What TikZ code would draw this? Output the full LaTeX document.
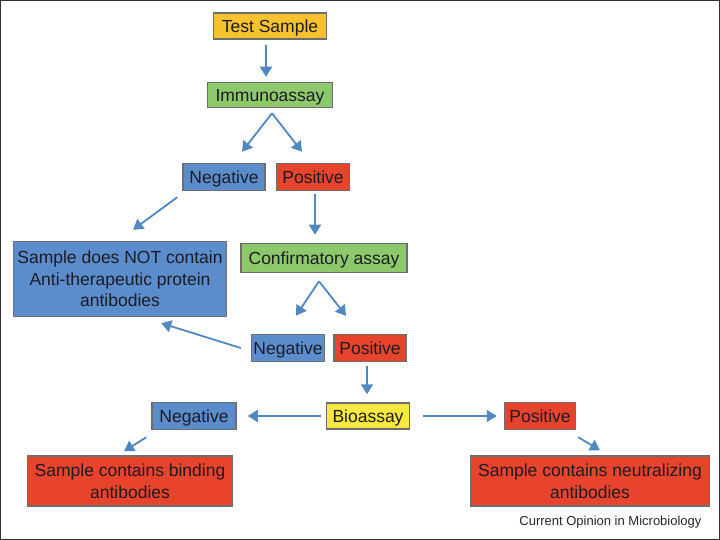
\documentclass[tikz,border=0pt]{standalone}
\usepackage{fontspec}
\setmainfont{Liberation Sans}
\usetikzlibrary{calc,arrows.meta}
\definecolor{cOrange}{HTML}{F8C12E}
\definecolor{cGreen}{HTML}{8DC86B}
\definecolor{cBlue}{HTML}{5B8CCB}
\definecolor{cRed}{HTML}{E8432C}
\definecolor{cYellow}{HTML}{F6E83C}
\definecolor{cArrow}{HTML}{5088C2}
\definecolor{cEdge}{HTML}{6E6E6E}
\definecolor{cText}{HTML}{1C1C24}
\begin{document}
\begin{tikzpicture}[x=1pt,y=-1pt,
  base/.style={draw=cEdge,line width=1.5pt,inner sep=0pt,text=cText,
    font=\fontsize{17.5}{21.5}\selectfont},
  box/.style={base,align=center},
  sbox/.style={base,text height=14pt,text depth=1.5pt},
  arr/.style={draw=cArrow,line width=1.8pt,-{Triangle[length=10pt,width=12pt]}},
]
\useasboundingbox (0,0) rectangle (720,540);
\draw[line width=2.5pt,draw=black!80] (0,0) rectangle (720,540);

\node[sbox,fill=cOrange,minimum width=113,minimum height=26] (ts) at (270,26) {Test Sample};
\node[sbox,fill=cGreen,minimum width=125,minimum height=25] (imm) at (270,95) {Immunoassay};
\node[sbox,fill=cBlue,minimum width=82,minimum height=27] (neg1) at (224,177) {Negative};
\node[sbox,fill=cRed,minimum width=73,minimum height=27] (pos1) at (313,177) {Positive};
\node[box,fill=cBlue,minimum width=213,minimum height=75] (notc) at (120,279) {Sample does NOT contain\\Anti-therapeutic protein\\antibodies};
\node[sbox,fill=cGreen,minimum width=166,minimum height=29] (conf) at (324,258) {Confirmatory assay};
\node[sbox,fill=cBlue,minimum width=73,minimum height=27] (neg2) at (288,348) {Negative};
\node[sbox,fill=cRed,minimum width=72,minimum height=27] (pos2) at (370,348) {Positive};
\node[sbox,fill=cYellow,minimum width=83,minimum height=26] (bio) at (368,416) {Bioassay};
\node[sbox,fill=cBlue,minimum width=84,minimum height=27] (neg3) at (194,416) {Negative};
\node[sbox,fill=cRed,minimum width=71,minimum height=27] (pos3) at (540,416) {Positive};
\node[box,fill=cRed,minimum width=205,minimum height=50] (bind) at (130,481) {Sample contains binding\\antibodies};
\node[box,fill=cRed,minimum width=239,minimum height=50] (neut) at (590,481) {Sample contains neutralizing\\antibodies};
\node[anchor=east,font=\fontsize{13}{15}\selectfont,text=black!85] (cap) at (705,522) {Current Opinion in Microbiology};

% arrows
\draw[arr] ($(ts.south)+(-4,5)$) -- ($(imm.north)+(-4,-5)$);
\coordinate (ia) at ($(imm.south)+(2,5)$);
\draw[arr] (ia) -- ($(neg1.north)+(18,-11)$);
\draw[arr] (ia) -- ($(pos1.north)+(-11,-11)$);
\draw[arr] ($(neg1.south west)+(-5,6)$) -- ($(notc.north)+(13,-11)$);
\draw[arr] ($(pos1.south)+(2,3)$) -- ($(conf.north)+(-9,-8)$);
\coordinate (ca) at ($(conf.south)+(-5,8)$);
\draw[arr] (ca) -- ($(neg2.north)+(8,-18)$);
\draw[arr] (ca) -- ($(pos2.north)+(-24,-18)$);
\draw[arr] ($(neg2.west)+(-10,0)$) -- ($(notc.south east)+(-66,6)$);
\draw[arr] ($(pos2.south)+(-3,4)$) -- ($(bio.north)+(-1,-8)$);
\draw[arr] ($(bio.west)+(-5,0)$) -- ($(neg3.east)+(11,0)$);
\draw[arr] ($(bio.east)+(13,0)$) -- ($(pos3.west)+(-7,0)$);
\draw[arr] ($(neg3.south west)+(-5,7)$) -- ($(bind.north)+(-6,-4)$);
\draw[arr] ($(pos3.south east)+(2,7)$) -- ($(neut.north)+(10,-5)$);
\end{tikzpicture}
\end{document}
